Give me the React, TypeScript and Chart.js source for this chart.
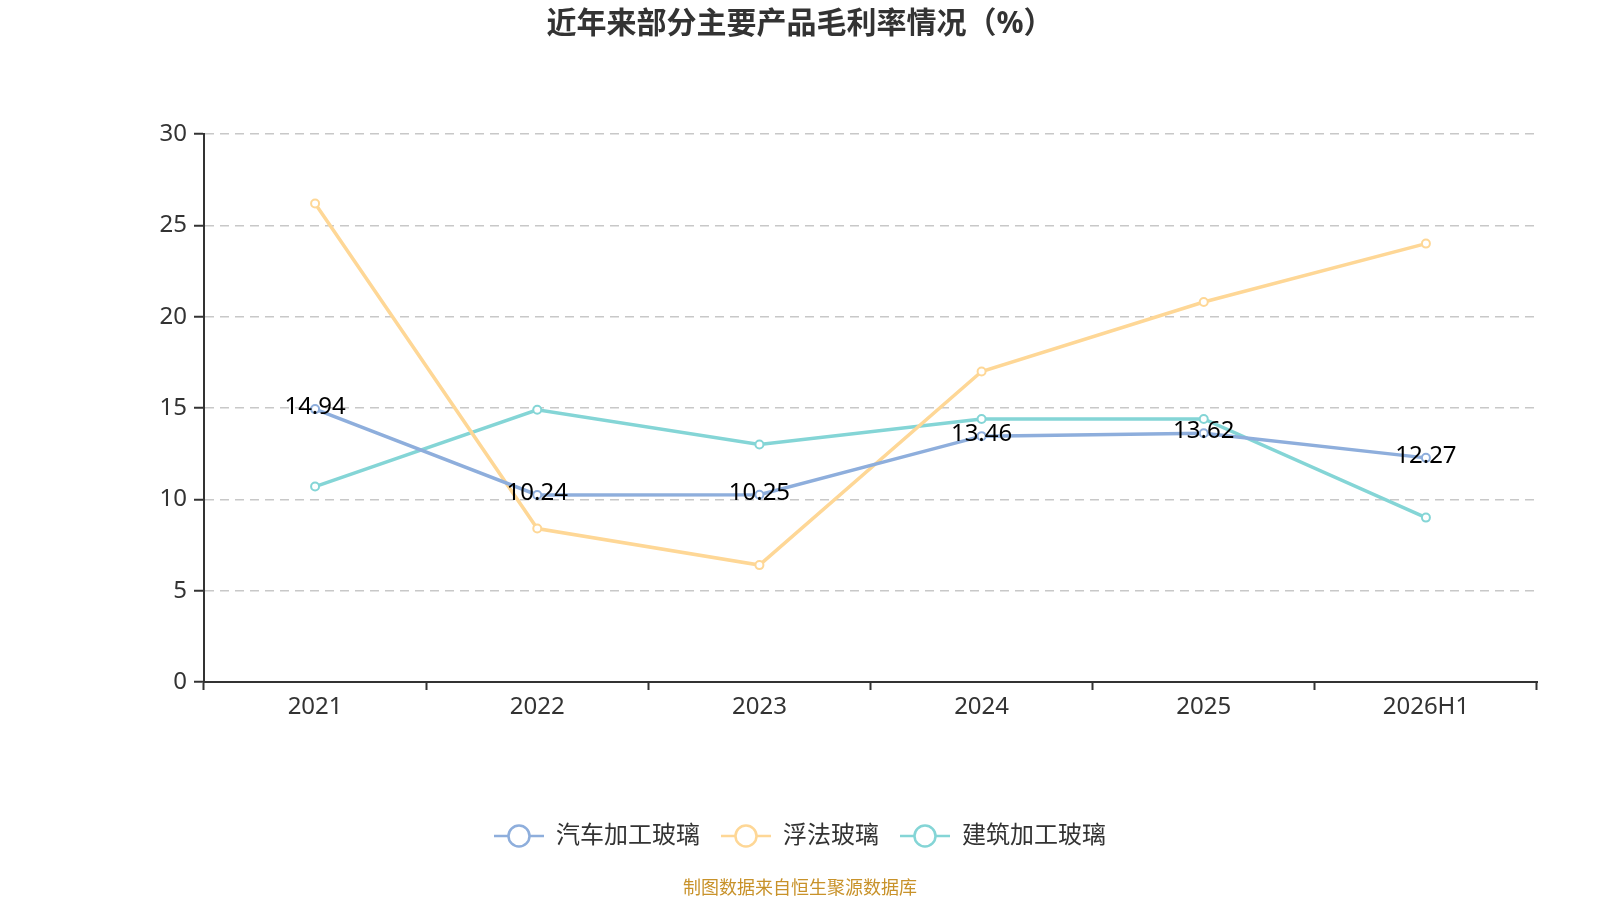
import React, { useEffect, useRef } from 'react';
import { Chart, registerables } from 'chart.js';

Chart.register(...registerables);

const FONT = '"Noto Sans", "Noto Sans CJK SC", sans-serif';

const categories = ['2021', '2022', '2023', '2024', '2025', '2026H1'];
const seriesNames = ['汽车加工玻璃', '浮法玻璃', '建筑加工玻璃'];
const autoGlass = [14.94, 10.24, 10.25, 13.46, 13.62, 12.27];
const floatGlass = [26.2, 8.4, 6.4, 17.0, 20.8, 24.0];
const buildingGlass = [10.7, 14.9, 13.0, 14.4, 14.4, 9.0];
const yMin = 0;
const yMax = 30;
const yStep = 5;

const colors = ['#8eaedc', '#fed796', '#84d5d6'];

// little "-o-" icon used by the legend
function makeLegendIcon(color: string): HTMLCanvasElement {
    const c = document.createElement('canvas');
    c.width = 50;
    c.height = 26;
    const g = c.getContext('2d');
    if (g) {
        g.strokeStyle = color;
        g.lineWidth = 2.5;
        g.beginPath();
        g.moveTo(0, 13);
        g.lineTo(50, 13);
        g.stroke();
        g.beginPath();
        g.arc(25, 13, 10.5, 0, Math.PI * 2);
        g.fillStyle = '#fff';
        g.fill();
        g.stroke();
    }
    return c;
}

const valueLabels = {
    id: 'valueLabels',
    afterDatasetsDraw(chart: any) {
        const { ctx } = chart;
        const meta = chart.getDatasetMeta(0);
        ctx.save();
        ctx.font = `24px ${FONT}`;
        ctx.fillStyle = '#000';
        ctx.textAlign = 'center';
        ctx.textBaseline = 'middle';
        meta.data.forEach((pt: any, i: number) => {
            ctx.fillText(String(autoGlass[i]), pt.x, pt.y - 2);
        });
        ctx.restore();
    },
};

const sourceNote = {
    id: 'sourceNote',
    afterDraw(chart: any) {
        const { ctx, width } = chart;
        ctx.save();
        ctx.font = `18px ${FONT}`;
        ctx.fillStyle = '#c8922a';
        ctx.textAlign = 'center';
        ctx.textBaseline = 'middle';
        ctx.fillText('制图数据来自恒生聚源数据库', width / 2, 889);
        ctx.restore();
    },
};

export default function App() {
    const chartRef = useRef<HTMLCanvasElement | null>(null);
    const chartInstance = useRef<Chart | null>(null);

    useEffect(() => {
        if (!chartRef.current) return;
        if (chartInstance.current) {
            chartInstance.current.destroy();
        }
        const ctx = chartRef.current.getContext('2d');
        if (!ctx) return;

        const icons = colors.map(makeLegendIcon);
        const values = [autoGlass, floatGlass, buildingGlass];

        chartInstance.current = new Chart(ctx, {
            type: 'line',
            data: {
                labels: categories,
                datasets: values.map((data, i) => ({
                    label: seriesNames[i],
                    data,
                    borderColor: colors[i],
                    backgroundColor: colors[i],
                    borderWidth: 3.5,
                    pointRadius: 4,
                    pointBorderWidth: 2,
                    pointBackgroundColor: '#fff',
                    pointBorderColor: colors[i],
                    tension: 0,
                    yAxisID: 'y',
                })),
            },
            options: {
                responsive: false,
                animation: false,
                layout: { padding: { top: 0, left: 0, right: 0, bottom: 42 } },
                scales: {
                    x: {
                        offset: true,
                        grid: {
                            offset: true,
                            drawOnChartArea: false,
                            drawTicks: true,
                            tickLength: 8,
                            tickColor: '#333',
                            tickWidth: 2,
                        },
                        border: { display: true, color: '#333', width: 2 },
                        ticks: {
                            color: '#333',
                            font: { size: 24, family: FONT },
                            padding: 3,
                            maxRotation: 0,
                            autoSkip: false,
                        },
                        afterFit: (s: any) => {
                            s.height = 121;
                        },
                    },
                    y: {
                        min: yMin,
                        max: yMax,
                        ticks: {
                            stepSize: yStep,
                            color: '#333',
                            font: { size: 24, family: FONT },
                            padding: 7,
                        },
                        grid: {
                            color: '#c8c8c8',
                            lineWidth: 1.5,
                            tickLength: 10,
                            tickColor: '#333',
                            tickWidth: 2,
                            tickBorderDash: [],
                        },
                        border: { display: true, color: '#333', width: 2, dash: [9, 6] },
                        afterFit: (s: any) => {
                            s.width = 204;
                        },
                    },
                    // empty right-hand spacer so the legend/title stay centred on the page
                    spacer: {
                        position: 'right',
                        grid: { display: false },
                        border: { display: false },
                        ticks: { display: false },
                        afterFit: (s: any) => {
                            s.width = 63;
                        },
                    },
                },
                plugins: {
                    title: {
                        display: true,
                        text: '近年来部分主要产品毛利率情况（%）',
                        color: '#333',
                        font: { size: 30, weight: 'bold', family: FONT },
                        padding: { top: 6, bottom: 92 },
                    },
                    legend: {
                        position: 'bottom',
                        labels: {
                            usePointStyle: true,
                            pointStyleWidth: 50,
                            padding: 21,
                            color: '#333',
                            font: { size: 24, family: FONT },
                            generateLabels: (chart: any) =>
                                chart.data.datasets.map((ds: any, i: number) => ({
                                    text: ds.label,
                                    fillStyle: '#fff',
                                    strokeStyle: colors[i],
                                    lineWidth: 0,
                                    pointStyle: icons[i],
                                    hidden: !chart.isDatasetVisible(i),
                                    datasetIndex: i,
                                    fontColor: '#333',
                                })),
                        },
                    },
                    tooltip: { enabled: false },
                },
            },
            plugins: [valueLabels, sourceNote],
        });

        return () => {
            if (chartInstance.current) {
                chartInstance.current.destroy();
                chartInstance.current = null;
            }
        };
    }, []);

    return (
        <div style={{ position: 'fixed', left: 0, top: 0, width: 1600, height: 900, background: '#fff' }}>
            <canvas ref={chartRef} width={1600} height={900}></canvas>
        </div>
    );
}
